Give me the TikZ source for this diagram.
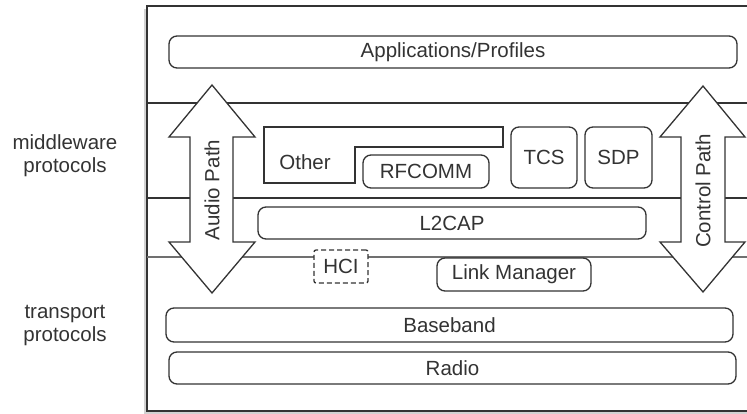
\documentclass[tikz,border=0pt]{standalone}
\usepackage{fontspec}
\setmainfont{Liberation Sans}
\definecolor{ink}{HTML}{333333}
\tikzset{
  layer/.style={draw=ink, line width=1.3pt, rounded corners=8pt, fill=white, text=ink,
    font=\fontsize{20.5}{24}\selectfont, inner sep=0pt},
  side/.style={text=ink, font=\fontsize{20.5}{23}\selectfont, align=center},
  path arrow/.style={draw=ink, line width=1.3pt, fill=white, line join=miter},
  rule/.style={draw=ink, line width=1.3pt}
}
\begin{document}
\begin{tikzpicture}[x=1pt, y=-1pt]
        \useasboundingbox (0,0) rectangle (747,414);
        \clip (0,0) rectangle (747,414);

        % Frame with light shadow
        \fill[gray!35] (144,9) rectangle (760,414);
        \draw[ink, line width=2pt, fill=white] (147,6) rectangle (760,411);

        % Layer rules
        \draw[rule] (147,103) -- (760,103);
        \draw[rule] (147,198) -- (760,198);
        \draw[rule, draw=ink!70] (147,257) -- (760,257);

        % Side labels
        \node[side] (middleware) at (65,156) {middleware\\protocols};
        \node[side] (transport) at (65,325) {transport\\protocols};

        % Audio and control paths
        \draw[path arrow] (212,85) -- (255,137) -- (233,137) -- (233,242) -- (255,242) -- (212,293)
          -- (169,242) -- (190,242) -- (190,137) -- (169,137) -- cycle;
        \node[side, rotate=90] (audio) at (212,190) {Audio Path};
        \draw[path arrow] (703,86) -- (745,137) -- (725,137) -- (725,242) -- (745,242) -- (703,292)
          -- (660,242) -- (681,242) -- (681,137) -- (660,137) -- cycle;
        \node[side, rotate=90] (control) at (703,191) {Control Path};

        % Middleware boxes
        \node[layer, minimum width=568, minimum height=32] (apps) at (453,52) {Applications/Profiles};
        \draw[draw=ink, line width=1.3pt] (264,127) -- (503,127) -- (503,147) -- (355,147) -- (355,183) -- (264,183) -- cycle;
        \node[side] (other) at (305,162) {Other};
        \node[layer, minimum width=126, minimum height=33] (rfcomm) at (426,171.5) {RFCOMM};
        \node[layer, minimum width=66, minimum height=61] (tcs) at (544,157.5) {TCS};
        \node[layer, minimum width=67, minimum height=61] (sdp) at (618.5,157.5) {SDP};
        \node[layer, minimum width=388, minimum height=32] (l2cap) at (452,223) {L2CAP};

        % Transport boxes
        \node[layer, dash pattern=on 5pt off 3pt, rounded corners=2pt, minimum width=54, minimum height=33] (hci) at (341,266.5) {HCI};
        \node[layer, minimum width=154, minimum height=33] (lm) at (514,274.5) {Link Manager};
        \node[layer, minimum width=567, minimum height=34] (baseband) at (449.5,325) {Baseband};
        \node[layer, minimum width=567, minimum height=32] (radio) at (452.5,368) {Radio};
    \end{tikzpicture}
\end{document}
